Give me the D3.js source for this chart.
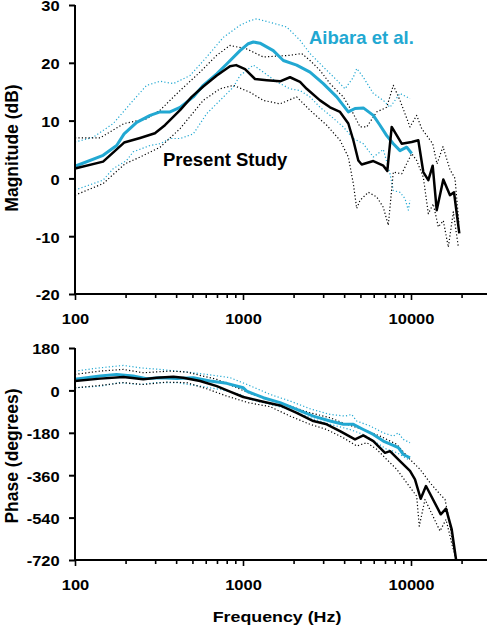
<!DOCTYPE html>
<html><head><meta charset="utf-8">
<script src="https://cdn.jsdelivr.net/npm/d3@7/dist/d3.min.js"></script>
<style>
html,body{margin:0;padding:0;background:#fff;}
svg{display:block;}
text{font-family:"Liberation Sans",Arial,Helvetica,sans-serif;font-weight:bold;}
</style></head>
<body>
<svg id="chart" width="487" height="626"></svg>
<script>
// ---------- DATA ----------
const freqTicks = [100,200,300,400,500,600,700,800,900,1000,2000,3000,4000,5000,6000,7000,8000,9000,10000,20000];
const freqLabels = [100,1000,10000];
const magTicks = [-20,-10,0,10,20,30];
const phaseTicks = [-720,-540,-360,-180,0,180];

// Magnitude (dB) — [frequency Hz, dB]
const magPresent = [[100,1.7],[147,2.9],[196,6.2],[244,7.0],[299,7.8],[343,9.2],[422,11.8],[495,14.1],[580,15.9],[698,17.8],[837,19.4],[910,19.6],[1028,18.9],[1179,17.2],[1384,17.0],[1661,16.8],[1905,17.5],[2185,16.7],[2394,15.5],[2873,13.5],[3296,12.3],[3780,11.5],[4236,9.5],[4536,6.6],[4858,3.1],[5088,2.4],[5966,3.0],[6842,2.2],[7227,1.3],[7676,8.9],[8804,6.0],[10097,6.3],[11053,6.6],[11838,1.1],[12680,-0.3],[13463,2.2],[14223,-5.5],[15570,-0.2],[17070,-2.9],[18030,-2.4],[19390,-9.5]];
const magPresentHi = [[100,7.0],[141,7.0],[196,9.5],[267,10.3],[321,11.8],[422,15.2],[555,18.4],[698,21.3],[837,23.0],[1052,22.4],[1321,21.0],[1905,21.3],[2236,21.6],[2505,20.4],[2873,18.7],[3296,16.4],[3954,14.1],[4536,11.2],[4971,8.9],[5450,8.9],[6248,11.5],[7168,12.3],[7847,16.1],[8600,13.5],[9863,8.9],[10810,10.9],[11580,8.6],[13463,6.0],[14280,2.5],[15500,5.5],[17070,1.5],[18280,0.0],[19310,-8.0]];
const magPresentLo = [[100,-2.9],[147,-0.9],[198,2.5],[244,3.7],[321,5.4],[422,8.6],[580,13.5],[730,15.5],[876,16.1],[1101,14.9],[1321,13.5],[1661,12.9],[2087,14.1],[2505,11.8],[3149,9.2],[3780,6.6],[4236,3.7],[4536,-0.9],[4752,-5.2],[4971,-3.8],[5569,-2.4],[6248,-3.2],[6842,-5.0],[7327,-8.1],[7847,1.1],[8804,0.8],[10097,4.3],[10810,3.1],[11838,0.2],[12680,-6.1],[13570,-4.4],[14540,-8.4],[15570,-7.3],[16680,-11.9],[17860,-5.8],[19120,-11.8]];
const magAibara = [[100,2.1],[147,4.0],[177,5.7],[196,7.7],[233,9.7],[280,10.9],[321,11.5],[368,11.5],[422,12.3],[506,14.1],[580,16.1],[698,18.1],[800,19.8],[960,22.1],[1075,23.3],[1152,23.6],[1262,23.4],[1515,22.1],[1738,20.4],[2087,19.6],[2505,18.4],[3006,16.4],[3612,14.1],[4236,11.5],[4642,12.1],[5201,12.2],[5966,10.9],[6538,9.2],[7168,7.4],[7847,6.0],[8600,4.8],[9428,5.4],[10097,4.3]];
const magAibaraHi = [[100,6.3],[128,7.1],[169,9.5],[222,13.5],[267,16.1],[321,16.8],[385,16.4],[484,17.8],[608,21.0],[763,24.4],[960,26.5],[1101,27.3],[1207,27.6],[1448,27.0],[1820,26.2],[2185,23.9],[2505,21.6],[3006,19.3],[3612,17.0],[4047,15.5],[4536,17.5],[4752,19.0],[5201,17.5],[5966,14.7],[6842,13.5],[7499,12.3],[8600,14.7],[9863,13.8]];
const magAibaraLo = [[100,-2.0],[147,-0.3],[169,1.7],[203,3.1],[222,4.6],[280,5.7],[321,6.0],[368,6.9],[422,6.9],[506,7.7],[608,11.2],[730,13.5],[876,15.8],[960,17.8],[1152,19.6],[1321,18.4],[1587,16.7],[1905,15.5],[2185,15.2],[2505,14.1],[2873,12.3],[3296,10.9],[3954,8.9],[4536,6.9],[5201,6.0],[5966,3.7],[6842,5.0],[7499,0.8],[7847,-2.1],[8600,-2.4],[9210,-3.5],[9637,-5.5],[9863,-3.8]];

// Phase (degrees) — [frequency Hz, degrees]
const phPresent = [[100,40],[141,50],[194,57],[255,47],[306,54],[385,58],[441,54],[555,40],[698,18],[837,-5],[1004,-28],[1262,-45],[1661,-64],[2087,-95],[2621,-130],[3149,-144],[3780,-173],[4642,-208],[5201,-191],[5966,-215],[7003,-265],[7499,-258],[8600,-300],[9863,-342],[10560,-378],[11420,-460],[12280,-406],[15030,-526],[16160,-502],[17470,-590],[18530,-717]];
const phPresentHi = [[100,68],[141,82],[194,89],[255,75],[368,82],[462,78],[555,64],[698,47],[876,18],[1101,-13],[1448,-38],[1905,-67],[2505,-95],[3296,-116],[4143,-144],[5201,-166],[6538,-194],[8220,-229],[9863,-293],[11310,-335],[12980,-392],[14880,-441],[15940,-463],[16680,-533],[17860,-660],[18530,-717]];
const phPresentLo = [[100,11],[141,21],[194,33],[255,25],[351,35],[462,33],[608,7],[800,-24],[1075,-52],[1448,-69],[1905,-109],[2505,-144],[3149,-166],[3954,-201],[4752,-236],[5450,-222],[6248,-250],[7168,-293],[8220,-335],[9428,-392],[10810,-449],[11200,-576],[12120,-463],[14880,-597],[16160,-548],[17540,-654],[18530,-717]];
const phAibara = [[100,47],[141,61],[177,68],[222,61],[267,50],[321,54],[403,50],[506,54],[636,40],[800,30],[1004,11],[1052,-3],[1321,-31],[1661,-52],[2087,-81],[2621,-109],[3296,-130],[3954,-144],[4536,-144],[5201,-166],[5966,-187],[6842,-215],[7847,-233],[8404,-243],[9000,-272],[9863,-286]];
const phAibaraHi = [[100,82],[141,96],[194,106],[244,96],[321,89],[462,78],[608,68],[837,54],[1101,20],[1448,-17],[1905,-45],[2505,-78],[3296,-102],[4047,-109],[4436,-102],[4752,-130],[5702,-151],[6842,-180],[7847,-194],[8404,-180],[9000,-208],[9863,-222]];
const phAibaraLo = [[100,11],[141,18],[185,33],[244,25],[306,33],[403,33],[555,18],[730,4],[960,-17],[1101,-38],[1448,-59],[1905,-81],[2505,-116],[3296,-144],[4335,-166],[5201,-187],[6248,-222],[7168,-250],[7847,-258],[8600,-272],[9637,-293]];

// ---------- DRAW ----------
const BLACK = "#000", CYAN = "#22a8d2";
const svg = d3.select("#chart");
const x = d3.scaleLog().domain([100,10000]).range([75,411]);
const xEnd = 487;
const yMag = d3.scaleLinear().domain([-20,30]).range([294,5]);
const yPh = d3.scaleLinear().domain([-720,180]).range([560,348]);
const SX = 1.18; // horizontal stretch of the tick text

function panel(y, yTicks, data, title, titleY){
  const g = svg.append("g");
  const y0 = y.range()[0], y1 = y.range()[1];
  const line = d3.line().x(d=>x(d[0])).y(d=>y(d[1]));
  data.forEach(s=>{
    g.append("path").attr("d",line(s.values)).attr("fill","none")
      .attr("stroke",s.color).attr("stroke-width",s.width)
      .attr("stroke-dasharray",s.dash||null)
      .attr("stroke-linejoin","round");
  });
  // axes lines
  g.append("line").attr("x1",75).attr("x2",75).attr("y1",y1).attr("y2",y0)
    .attr("stroke",BLACK).attr("stroke-width",2);
  g.append("line").attr("x1",75).attr("x2",xEnd).attr("y1",y0).attr("y2",y0)
    .attr("stroke",BLACK).attr("stroke-width",2);
  // y axis
  const ya = g.append("g").attr("transform","translate(75,0)")
    .call(d3.axisLeft(y).tickValues(yTicks).tickSize(6).tickPadding(7)
      .tickFormat(d=>String(d)));
  ya.select(".domain").remove();
  ya.selectAll("line").attr("stroke",BLACK).attr("stroke-width",2);
  ya.selectAll("text").attr("font-size",14).attr("fill",BLACK)
    .attr("dy","0.42em").attr("transform",`scale(${SX},1)`)
    .attr("font-family","Liberation Sans, Arial, sans-serif").attr("font-weight","bold");
  // x axis
  const xa = g.append("g").attr("transform",`translate(0,${y0})`)
    .call(d3.axisBottom(x).tickValues(freqTicks).tickSize(6).tickPadding(14)
      .tickFormat(d=>freqLabels.includes(d)?String(d):""));
  xa.select(".domain").remove();
  xa.selectAll(".tick line").attr("stroke",BLACK).attr("stroke-width",1.6)
    .attr("y2",d=>freqLabels.includes(d)?6:4);
  xa.selectAll("text").attr("font-size",14).attr("fill",BLACK)
    .attr("transform",`scale(${SX},1)`)
    .attr("font-family","Liberation Sans, Arial, sans-serif").attr("font-weight","bold");
  // y title
  svg.append("text").attr("transform",`translate(18,${titleY}) rotate(-90)`)
    .attr("text-anchor","middle").attr("font-size",17.5).attr("fill",BLACK).text(title);
  return g;
}

panel(yMag, magTicks, [
  {values:magAibaraHi,color:CYAN,width:1.2,dash:"1.2,2.2"},
  {values:magAibaraLo,color:CYAN,width:1.2,dash:"1.2,2.2"},
  {values:magPresentHi,color:BLACK,width:1.2,dash:"1.2,2.2"},
  {values:magPresentLo,color:BLACK,width:1.2,dash:"1.2,2.2"},
  {values:magAibara,color:CYAN,width:3},
  {values:magPresent,color:BLACK,width:2.5}
], "Magnitude (dB)", 148);

panel(yPh, phaseTicks, [
  {values:phAibaraHi,color:CYAN,width:1.2,dash:"1.2,2.2"},
  {values:phAibaraLo,color:CYAN,width:1.2,dash:"1.2,2.2"},
  {values:phPresentHi,color:BLACK,width:1.2,dash:"1.2,2.2"},
  {values:phPresentLo,color:BLACK,width:1.2,dash:"1.2,2.2"},
  {values:phAibara,color:CYAN,width:3},
  {values:phPresent,color:BLACK,width:2.5}
], "Phase (degrees)", 456);

// annotations
svg.append("text").attr("x",309).attr("y",44).attr("font-size",18.5).attr("fill",CYAN).text("Aibara et al.");
svg.append("text").attr("x",163).attr("y",166).attr("font-size",18.5).attr("fill",BLACK).text("Present Study");
// x title
svg.append("g").attr("transform","translate(277,622) scale(1.15,1)")
  .append("text").attr("text-anchor","middle").attr("font-size",15.5).attr("fill",BLACK).text("Frequency (Hz)");
</script>
</body></html>
